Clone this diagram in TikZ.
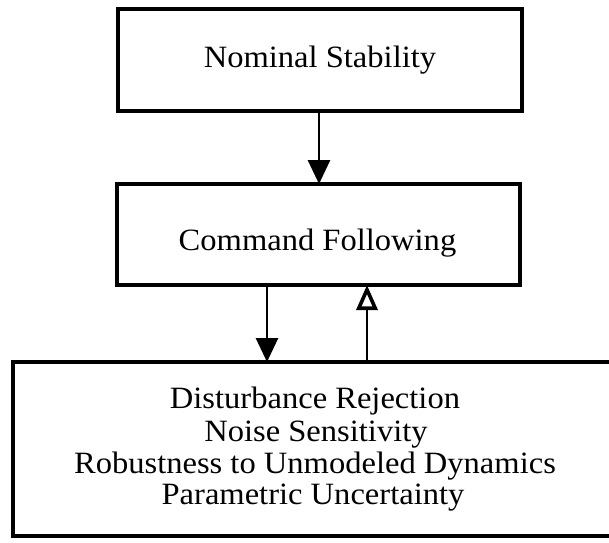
\documentclass[tikz,border=0pt]{standalone}
\usepackage{fontspec}
\setmainfont{Liberation Serif}[FakeStretch=1.05]
\usetikzlibrary{arrows.meta}
\begin{document}
\begin{tikzpicture}[x=1pt,y=-1pt,
  boxnode/.style={draw=black,line width=3.6pt,rectangle,inner sep=0pt,outer sep=0pt},
  lbl/.style={inner sep=0pt,anchor=base,font=\fontsize{31}{33}\selectfont},
  conn/.style={line width=2.8pt,-{Triangle[length=24pt,width=22pt]}},
  connopen/.style={line width=2.8pt,-{Triangle[open,length=25pt,width=21pt,line width=3.6pt]}}]
\useasboundingbox (0,0) rectangle (609,542);
\clip (0,0) rectangle (609,542);
\node[boxnode,minimum width=404pt,minimum height=102pt] (b1) at (320,60) {};
\node[boxnode,minimum width=403pt,minimum height=101pt] (b2) at (318.5,234.5) {};
\node[boxnode,minimum width=599pt,minimum height=174pt] (b3) at (312.5,449) {};
\node[lbl] (t1) at (320,67) {Nominal Stability};
\node[lbl] (t2) at (317.5,250) {Command Following};
\node[lbl] (l1) at (315,408) {Disturbance Rejection};
\node[lbl] (l2) at (316,441) {Noise Sensitivity};
\node[lbl] (l3) at (315,473) {Robustness to Unmodeled Dynamics};
\node[lbl] (l4) at (313,504) {Parametric Uncertainty};
\coordinate (xa) at (319,0);
\coordinate (xb) at (267,0);
\coordinate (xc) at (367,0);
\draw[conn] (xa |- b1.south) -- (xa |- b2.north);
\draw[conn] (xb |- b2.south) -- (xb |- b3.north);
\draw[connopen] (xc |- b3.north) -- (xc |- b2.south);
\end{tikzpicture}
\end{document}
